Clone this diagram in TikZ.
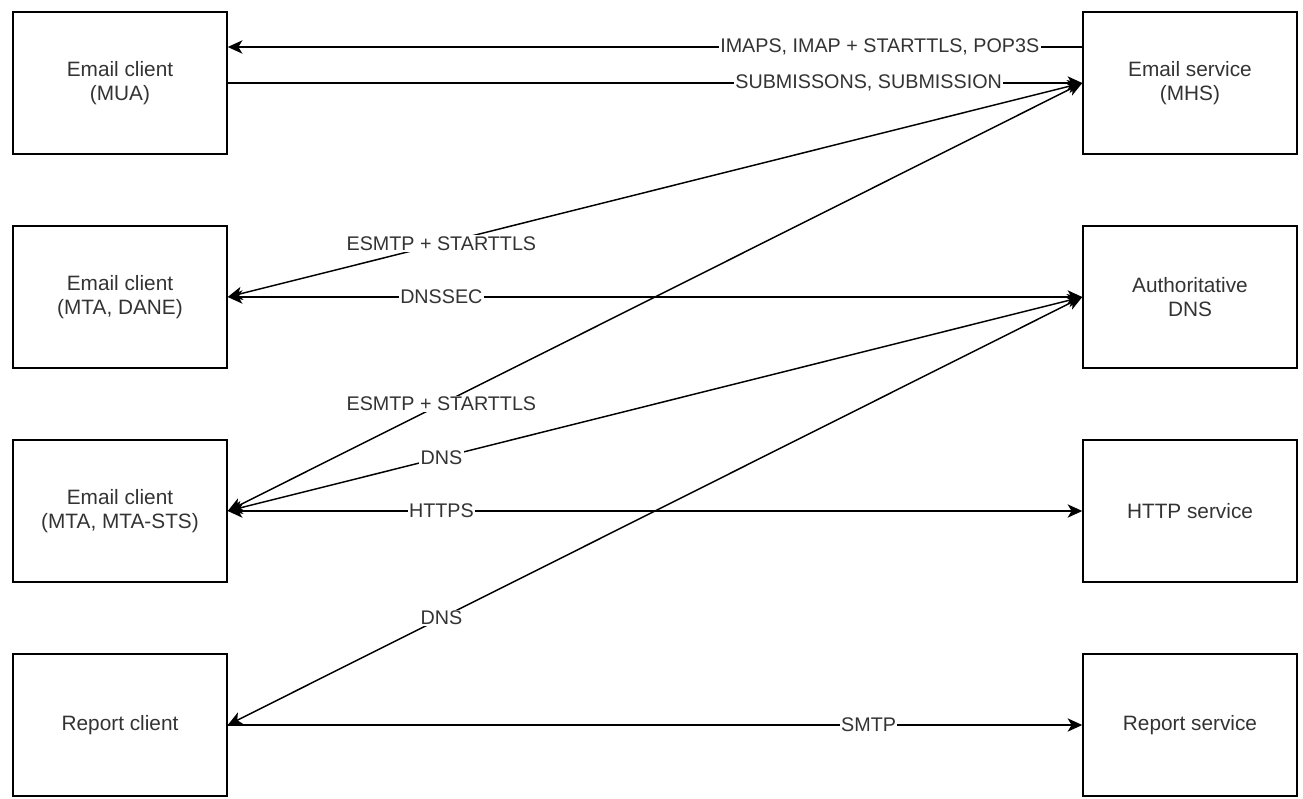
\documentclass[tikz,border=0pt]{standalone}
\usepackage{fontspec}
\setmainfont{Liberation Sans}
\usepackage{tikz}
\usetikzlibrary{arrows.meta, positioning}
\definecolor{txtGray}{HTML}{333333}

\begin{document}
\begin{tikzpicture}[x=0.75pt, y=-0.75pt,
    box/.style={draw, line width=1.1pt, minimum width=160.5pt, minimum height=106.5pt,
      align=center, font=\fontsize{15.6}{18.5}\selectfont, text=txtGray, inner sep=2pt},
    conn/.style={line width=1.1pt, >={Stealth[length=11pt, width=10pt, inset=3pt]}},
    lbl/.style={fill=white, inner sep=1pt, font=\fontsize{14.8}{17.5}\selectfont, text=txtGray}]
    \useasboundingbox (0,0) rectangle (1303,799);
    % clients on the left, services on the right
    \foreach \name/\txt [count=\i from 0] in
      {mua/{Email client\\(MUA)}, dane/{Email client\\(MTA, DANE)},
       sts/{Email client\\(MTA, MTA-STS)}, rcli/{Report client}} {
      \node[box] (\name) at (120,83+\i*214) {\txt};
    }
    \foreach \name/\txt [count=\i from 0] in
      {mhs/{Email service\\(MHS)}, adns/{Authoritative\\DNS},
       http/{HTTP service}, rsvc/{Report service}} {
      \node[box] (\name) at (1190,83+\i*214) {\txt};
    }
    % connectors
    \draw[conn, <-] ([yshift=27pt]mua.east) -- node[lbl, pos=0.763] {IMAPS, IMAP + STARTTLS, POP3S} ([yshift=27pt]mhs.west);
    \draw[conn, ->] (mua.east) -- node[lbl, pos=0.75] {SUBMISSONS, SUBMISSION} (mhs.west);
    \draw[conn, <->] (dane.east) -- node[lbl, pos=0.25] {ESMTP + STARTTLS} (mhs.west);
    \draw[conn, <->] (dane.east) -- node[lbl, pos=0.25] {DNSSEC} (adns.west);
    \draw[conn, <->] (sts.east) -- node[lbl, pos=0.25] {ESMTP + STARTTLS} (mhs.west);
    \draw[conn, <->] (sts.east) -- node[lbl, pos=0.25] {DNS} (adns.west);
    \draw[conn, <->] (sts.east) -- node[lbl, pos=0.25] {HTTPS} (http.west);
    \draw[conn, <->] (rcli.east) -- node[lbl, pos=0.25] {DNS} (adns.west);
    \draw[conn, ->] (rcli.east) -- node[lbl, pos=0.75] {SMTP} (rsvc.west);
\end{tikzpicture}
\end{document}
